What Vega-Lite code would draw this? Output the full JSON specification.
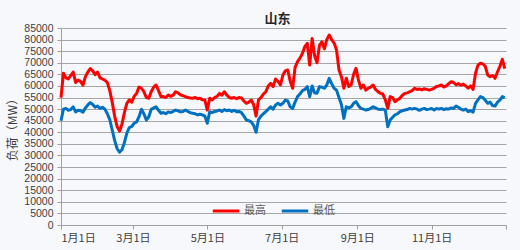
{
  "$schema": "https://vega.github.io/schema/vega-lite/v6.json",
  "width": 445,
  "height": 197,
  "autosize": {"type": "none"},
  "padding": {"left": 61, "top": 28, "right": 14, "bottom": 25},
  "background": "#f6f8fb",
  "config": {"view": {"stroke": null}, "font": "Noto Sans CJK SC"},
  "title": {"text": "山东", "fontSize": 13, "fontWeight": "bold", "color": "#262626", "anchor": "middle", "offset": 7, "dy": 10, "dx": -6, "font": "Noto Sans CJK SC"},
  "data": {"values": [
    {"date": "2023-01-01", "最高": 55000, "最低": 45000},
    {"date": "2023-01-03", "最高": 65500, "最低": 50000},
    {"date": "2023-01-05", "最高": 63500, "最低": 50300},
    {"date": "2023-01-07", "最高": 63000, "最低": 49500},
    {"date": "2023-01-09", "最高": 64500, "最低": 49800},
    {"date": "2023-01-11", "最高": 66000, "最低": 51000},
    {"date": "2023-01-13", "最高": 61500, "最低": 48800},
    {"date": "2023-01-15", "最高": 62500, "最低": 49500},
    {"date": "2023-01-17", "最高": 62000, "最低": 49300},
    {"date": "2023-01-19", "最高": 60300, "最低": 48700},
    {"date": "2023-01-21", "最高": 64000, "最低": 50500},
    {"date": "2023-01-23", "最高": 66000, "最低": 51800},
    {"date": "2023-01-25", "最高": 67500, "最低": 52800},
    {"date": "2023-01-27", "最高": 66500, "最低": 52000},
    {"date": "2023-01-29", "最高": 64800, "最低": 50800},
    {"date": "2023-01-31", "最高": 66000, "最低": 51300},
    {"date": "2023-02-02", "最高": 63500, "最低": 50300},
    {"date": "2023-02-04", "最高": 63000, "最低": 50800},
    {"date": "2023-02-06", "最高": 62500, "最低": 50000},
    {"date": "2023-02-08", "最高": 61500, "最低": 48000},
    {"date": "2023-02-10", "最高": 58000, "最低": 45500},
    {"date": "2023-02-12", "最高": 53000, "最低": 41000},
    {"date": "2023-02-14", "最高": 47000, "最低": 36500},
    {"date": "2023-02-16", "最高": 42500, "最低": 33000},
    {"date": "2023-02-18", "最高": 40500, "最低": 31400},
    {"date": "2023-02-20", "最高": 43500, "最低": 32500},
    {"date": "2023-02-22", "最高": 48500, "最低": 35500},
    {"date": "2023-02-24", "最高": 52500, "最低": 39600},
    {"date": "2023-02-26", "最高": 54000, "最低": 42000},
    {"date": "2023-02-28", "最高": 53000, "最低": 42500},
    {"date": "2023-03-02", "最高": 55500, "最低": 43900},
    {"date": "2023-03-04", "最高": 56800, "最低": 44500},
    {"date": "2023-03-06", "最高": 59500, "最低": 46700},
    {"date": "2023-03-08", "最高": 59000, "最低": 49900},
    {"date": "2023-03-10", "最高": 57500, "最低": 48000},
    {"date": "2023-03-12", "最高": 55000, "最低": 45300},
    {"date": "2023-03-14", "最高": 54700, "最低": 46700},
    {"date": "2023-03-16", "最高": 57500, "最低": 49900},
    {"date": "2023-03-18", "最高": 59500, "最低": 50500},
    {"date": "2023-03-20", "最高": 60400, "最低": 51000},
    {"date": "2023-03-22", "最高": 58000, "最低": 49500},
    {"date": "2023-03-24", "最高": 55400, "最低": 48200},
    {"date": "2023-03-26", "最高": 55400, "最低": 48500},
    {"date": "2023-03-28", "最高": 55000, "最低": 48000},
    {"date": "2023-03-30", "最高": 56100, "最低": 48800},
    {"date": "2023-04-01", "最高": 55500, "最低": 48500},
    {"date": "2023-04-03", "最高": 56000, "最低": 49000},
    {"date": "2023-04-05", "最高": 57500, "最低": 49600},
    {"date": "2023-04-07", "最高": 57000, "最低": 49200},
    {"date": "2023-04-09", "最高": 56100, "最低": 48800},
    {"date": "2023-04-11", "最高": 55800, "最低": 49000},
    {"date": "2023-04-13", "最高": 55400, "最低": 49600},
    {"date": "2023-04-15", "最高": 55000, "最低": 49000},
    {"date": "2023-04-17", "最高": 54800, "最低": 48500},
    {"date": "2023-04-19", "最高": 54700, "最低": 48200},
    {"date": "2023-04-21", "最高": 55000, "最低": 48000},
    {"date": "2023-04-23", "最高": 54500, "最低": 47500},
    {"date": "2023-04-25", "最高": 54700, "最低": 47800},
    {"date": "2023-04-27", "最高": 54000, "最低": 47500},
    {"date": "2023-04-29", "最高": 53900, "最低": 47000},
    {"date": "2023-05-01", "最高": 49600, "最低": 43900},
    {"date": "2023-05-03", "最高": 54700, "最低": 48900},
    {"date": "2023-05-05", "最高": 54000, "最低": 48500},
    {"date": "2023-05-07", "最高": 55000, "最低": 49000},
    {"date": "2023-05-09", "最高": 55500, "最低": 49200},
    {"date": "2023-05-11", "最高": 56800, "最低": 49600},
    {"date": "2023-05-13", "最高": 56000, "最低": 49000},
    {"date": "2023-05-15", "最高": 57500, "最低": 49800},
    {"date": "2023-05-17", "最高": 56000, "最低": 49300},
    {"date": "2023-05-19", "最高": 55000, "最低": 49600},
    {"date": "2023-05-21", "最高": 54700, "最低": 49000},
    {"date": "2023-05-23", "最高": 55000, "最低": 49500},
    {"date": "2023-05-25", "最高": 54500, "最低": 48900},
    {"date": "2023-05-27", "最高": 55000, "最低": 49000},
    {"date": "2023-05-29", "最高": 54800, "最低": 48500},
    {"date": "2023-05-31", "最高": 53500, "最低": 47000},
    {"date": "2023-06-02", "最高": 52500, "最低": 45300},
    {"date": "2023-06-04", "最高": 53000, "最低": 45000},
    {"date": "2023-06-06", "最高": 53900, "最低": 44500},
    {"date": "2023-06-08", "最高": 52000, "最低": 43000},
    {"date": "2023-06-10", "最高": 47000, "最低": 40000},
    {"date": "2023-06-12", "最高": 54000, "最低": 45500},
    {"date": "2023-06-14", "最高": 55000, "最低": 47000},
    {"date": "2023-06-16", "最高": 56500, "最低": 48000},
    {"date": "2023-06-18", "最高": 57500, "最低": 48900},
    {"date": "2023-06-20", "最高": 60000, "最低": 50000},
    {"date": "2023-06-22", "最高": 61100, "最低": 51000},
    {"date": "2023-06-24", "最高": 59700, "最低": 50000},
    {"date": "2023-06-26", "最高": 63000, "最低": 51800},
    {"date": "2023-06-28", "最高": 62000, "最低": 52500},
    {"date": "2023-06-30", "最高": 60400, "最低": 51800},
    {"date": "2023-07-02", "最高": 64700, "最低": 52500},
    {"date": "2023-07-04", "最高": 66500, "最低": 53900},
    {"date": "2023-07-06", "最高": 66900, "最低": 53500},
    {"date": "2023-07-08", "最高": 62000, "最低": 51000},
    {"date": "2023-07-10", "最高": 59000, "最低": 50300},
    {"date": "2023-07-12", "最高": 68000, "最低": 53000},
    {"date": "2023-07-14", "最高": 70500, "最低": 55400},
    {"date": "2023-07-16", "最高": 72000, "最低": 56500},
    {"date": "2023-07-18", "最高": 74000, "最低": 58000},
    {"date": "2023-07-20", "最高": 77000, "最低": 58500},
    {"date": "2023-07-22", "最高": 78400, "最低": 59700},
    {"date": "2023-07-24", "最高": 69000, "最低": 55400},
    {"date": "2023-07-26", "最高": 80500, "最低": 60000},
    {"date": "2023-07-28", "最高": 73000, "最低": 57000},
    {"date": "2023-07-30", "最高": 70000, "最低": 56800},
    {"date": "2023-08-01", "最高": 77500, "最低": 59700},
    {"date": "2023-08-03", "最高": 79000, "最低": 59500},
    {"date": "2023-08-05", "最高": 76000, "最低": 59000},
    {"date": "2023-08-07", "最高": 80000, "最低": 60400},
    {"date": "2023-08-09", "最高": 82000, "最低": 63300},
    {"date": "2023-08-11", "最高": 80000, "最低": 61000},
    {"date": "2023-08-13", "最高": 78500, "最低": 59000},
    {"date": "2023-08-15", "最高": 75500, "最低": 58200},
    {"date": "2023-08-17", "最高": 67000, "最低": 55000},
    {"date": "2023-08-19", "最高": 64000, "最低": 52000},
    {"date": "2023-08-21", "最高": 59000, "最低": 46000},
    {"date": "2023-08-23", "最高": 63300, "最低": 51000},
    {"date": "2023-08-25", "最高": 59700, "最低": 50500},
    {"date": "2023-08-27", "最高": 60500, "最低": 51000},
    {"date": "2023-08-29", "最高": 65000, "最低": 52500},
    {"date": "2023-08-31", "最高": 67600, "最低": 53200},
    {"date": "2023-09-02", "最高": 62500, "最低": 51500},
    {"date": "2023-09-04", "最高": 59000, "最低": 50300},
    {"date": "2023-09-06", "最高": 60400, "最低": 50000},
    {"date": "2023-09-08", "最高": 58200, "最低": 49600},
    {"date": "2023-09-10", "最高": 59000, "最低": 49800},
    {"date": "2023-09-12", "最高": 59500, "最低": 50300},
    {"date": "2023-09-14", "最高": 60400, "最低": 51000},
    {"date": "2023-09-16", "最高": 58500, "最低": 50500},
    {"date": "2023-09-18", "最高": 57500, "最低": 50000},
    {"date": "2023-09-20", "最高": 56800, "最低": 49800},
    {"date": "2023-09-22", "最高": 56500, "最低": 50000},
    {"date": "2023-09-24", "最高": 54000, "最低": 49600},
    {"date": "2023-09-26", "最高": 50300, "最低": 42400},
    {"date": "2023-09-28", "最高": 55400, "最低": 45300},
    {"date": "2023-09-30", "最高": 55000, "最低": 46500},
    {"date": "2023-10-02", "最高": 53200, "最低": 47500},
    {"date": "2023-10-04", "最高": 54000, "最低": 48000},
    {"date": "2023-10-06", "最高": 54700, "最低": 48900},
    {"date": "2023-10-08", "最高": 56000, "最低": 49300},
    {"date": "2023-10-10", "最高": 56800, "最低": 49600},
    {"date": "2023-10-12", "最高": 57000, "最低": 49800},
    {"date": "2023-10-14", "最高": 57500, "最低": 50300},
    {"date": "2023-10-16", "最高": 58000, "最低": 50000},
    {"date": "2023-10-18", "最高": 59000, "最低": 50300},
    {"date": "2023-10-20", "最高": 58500, "最低": 50000},
    {"date": "2023-10-22", "最高": 58700, "最低": 49500},
    {"date": "2023-10-24", "最高": 58300, "最低": 50000},
    {"date": "2023-10-26", "最高": 58800, "最低": 50300},
    {"date": "2023-10-28", "最高": 58500, "最低": 49800},
    {"date": "2023-10-30", "最高": 58200, "最低": 50000},
    {"date": "2023-11-01", "最高": 58500, "最低": 50300},
    {"date": "2023-11-03", "最高": 59000, "最低": 49600},
    {"date": "2023-11-05", "最高": 59800, "最低": 50300},
    {"date": "2023-11-07", "最高": 60000, "最低": 50000},
    {"date": "2023-11-09", "最高": 60400, "最低": 50300},
    {"date": "2023-11-11", "最高": 59500, "最低": 49800},
    {"date": "2023-11-13", "最高": 60000, "最低": 50200},
    {"date": "2023-11-15", "最高": 61000, "最低": 50000},
    {"date": "2023-11-17", "最高": 61800, "最低": 50500},
    {"date": "2023-11-19", "最高": 61500, "最低": 50300},
    {"date": "2023-11-21", "最高": 60500, "最低": 51300},
    {"date": "2023-11-23", "最高": 61000, "最低": 50800},
    {"date": "2023-11-25", "最高": 60300, "最低": 50000},
    {"date": "2023-11-27", "最高": 60800, "最低": 49600},
    {"date": "2023-11-29", "最高": 60000, "最低": 50000},
    {"date": "2023-12-01", "最高": 59000, "最低": 48900},
    {"date": "2023-12-03", "最高": 60000, "最低": 49300},
    {"date": "2023-12-05", "最高": 58500, "最低": 48700},
    {"date": "2023-12-07", "最高": 65500, "最低": 52500},
    {"date": "2023-12-09", "最高": 69000, "最低": 54000},
    {"date": "2023-12-11", "最高": 69800, "最低": 55400},
    {"date": "2023-12-13", "最高": 69500, "最低": 55000},
    {"date": "2023-12-15", "最高": 68500, "最低": 53800},
    {"date": "2023-12-17", "最高": 64700, "最低": 52500},
    {"date": "2023-12-19", "最高": 64000, "最低": 53000},
    {"date": "2023-12-21", "最高": 64500, "最低": 51500},
    {"date": "2023-12-23", "最高": 63300, "最低": 51300},
    {"date": "2023-12-25", "最高": 66000, "最低": 53000},
    {"date": "2023-12-27", "最高": 68500, "最低": 53900},
    {"date": "2023-12-29", "最高": 71500, "最低": 55400},
    {"date": "2023-12-31", "最高": 67500, "最低": 55000}
  ]},
  "transform": [{"fold": ["最高", "最低"], "as": ["series", "value"]}],
  "mark": {"type": "line", "strokeWidth": 3, "strokeJoin": "round"},
  "encoding": {
    "x": {
      "field": "date", "type": "temporal",
      "scale": {"type": "utc", "domain": [{"year": 2023, "month": 1, "date": 1, "utc": true}, {"year": 2024, "month": 1, "date": 1, "utc": true}]},
      "axis": {
        "title": null, "grid": false,
        "values": [
          {"year": 2023, "month": 1, "date": 1, "utc": true},
          {"year": 2023, "month": 3, "date": 1, "utc": true},
          {"year": 2023, "month": 5, "date": 1, "utc": true},
          {"year": 2023, "month": 7, "date": 1, "utc": true},
          {"year": 2023, "month": 9, "date": 1, "utc": true},
          {"year": 2023, "month": 11, "date": 1, "utc": true},
          {"year": 2024, "month": 1, "date": 1, "utc": true}
        ],
        "labelExpr": "utcFormat(datum.value, '%Y') == '2024' ? '' : utcFormat(datum.value, '%-m月%-d日')",
        "labelFontSize": 11, "labelColor": "#404040", "labelPadding": 3,
        "domainColor": "#a0a0a0", "tickColor": "#a0a0a0", "tickSize": 4,
        "labelFont": "Noto Sans CJK SC"
      }
    },
    "y": {
      "field": "value", "type": "quantitative",
      "scale": {"domain": [0, 85000], "nice": false, "zero": true},
      "axis": {
        "title": "负荷（MW）", "titleFontSize": 12, "titleFontWeight": "normal", "titleColor": "#404040", "titlePadding": 4,
        "values": [0, 5000, 10000, 15000, 20000, 25000, 30000, 35000, 40000, 45000, 50000, 55000, 60000, 65000, 70000, 75000, 80000, 85000],
        "format": "d", "labelFontSize": 10.5, "labelColor": "#404040", "labelPadding": 4,
        "gridColor": "#a6a6a6", "gridWidth": 1, "domainColor": "#a0a0a0", "tickColor": "#a0a0a0", "tickSize": 4,
        "labelFont": "Liberation Sans", "titleFont": "Noto Sans CJK SC"
      }
    },
    "color": {
      "field": "series", "type": "nominal",
      "scale": {"domain": ["最高", "最低"], "range": ["#ff0000", "#0070c0"]},
      "legend": {
        "title": null, "orient": "none", "legendX": 150, "legendY": 168, "direction": "horizontal",
        "symbolType": "stroke", "symbolSize": 700, "symbolStrokeWidth": 3,
        "labelFontSize": 11, "labelColor": "#595959", "labelFont": "Noto Sans CJK SC", "columnPadding": 9, "labelOffset": 3
      }
    }
  }
}
